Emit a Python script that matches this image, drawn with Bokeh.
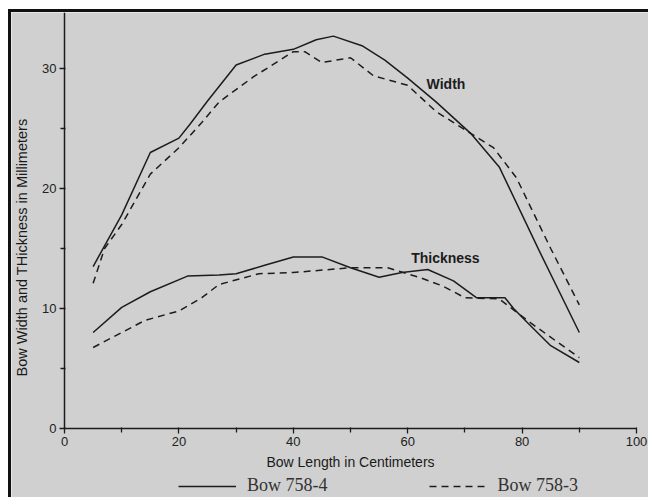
from bokeh.plotting import figure
from bokeh.models import Range1d, FixedTicker, Legend, LegendItem, LinearAxis
from bokeh.embed import file_html
from bokeh.resources import INLINE

# Width, Bow 758-4 (solid)
w4_x = [5, 10, 15, 20, 22, 25, 30, 35, 40, 44, 47, 52, 56, 60, 65, 71, 76, 83, 90]
w4_y = [13.5, 17.8, 23.0, 24.2, 25.4, 27.3, 30.3, 31.2, 31.6, 32.4, 32.7, 31.9, 30.7, 29.2, 27.2, 24.6, 21.8, 14.8, 8.0]
# Width, Bow 758-3 (dashed)
w3_x = [5, 7, 10, 15, 20, 24, 27, 33, 40, 42, 45, 50, 54, 60, 65, 71, 75, 79, 85, 90]
w3_y = [12.1, 15.0, 17.0, 21.2, 23.4, 25.5, 27.2, 29.3, 31.4, 31.4, 30.5, 30.9, 29.4, 28.6, 26.4, 24.6, 23.4, 20.9, 15.0, 10.3]
# Thickness, Bow 758-4 (solid)
t4_x = [5, 10, 15, 21.5, 27, 30, 35, 40, 45, 50, 55, 59, 63.5, 68, 72, 77, 78.5, 81, 85, 90]
t4_y = [8.0, 10.1, 11.4, 12.7, 12.8, 12.9, 13.6, 14.3, 14.3, 13.4, 12.6, 13.0, 13.25, 12.3, 10.9, 10.9, 10.0, 8.8, 6.9, 5.5]
# Thickness, Bow 758-3 (dashed)
t3_x = [5, 14, 20, 24, 27, 34, 40, 50, 56.5, 62, 66, 70, 76, 81.5, 90]
t3_y = [6.75, 9.0, 9.8, 10.9, 12.0, 12.9, 13.0, 13.4, 13.4, 12.6, 11.9, 10.9, 10.8, 8.8, 5.9]

x_ticks = [0, 20, 40, 60, 80, 100]
x_minor = [10, 30, 50, 70, 90]
y_ticks = [0, 10, 20, 30]
y_minor = [5, 15, 25]

series_labels = ["Bow 758-4", "Bow 758-3"]
curve_labels = ["Width", "Thickness"]
label_pos_x = [63.3, 60.6]
label_pos_y = [28.75, 14.2]

BG = "#d0d0d0"
INK = "#1c1c1c"
Y_TOP = 34.67

p = figure(width=640, height=488, output_backend="svg", toolbar_location=None,
           x_range=Range1d(-9.27, 102.62), y_range=Range1d(-6.0, Y_TOP),
           min_border_left=0, min_border_right=0, min_border_top=0, min_border_bottom=0)
p.styles = {"border-left": "3px solid #111111", "border-top": "3px solid #111111"}
p.background_fill_color = BG
p.border_fill_color = BG
p.outline_line_color = None
p.grid.visible = False

r_w4 = p.line(w4_x, w4_y, line_color=INK, line_width=1.5)
r_w3 = p.line(w3_x, w3_y, line_color=INK, line_width=1.5, line_dash="7 5")
p.line(t4_x, t4_y, line_color=INK, line_width=1.5)
p.line(t3_x, t3_y, line_color=INK, line_width=1.5, line_dash="7 5")

p.text(x=label_pos_x, y=label_pos_y, text=curve_labels, text_font_size="14px",
       text_font_style="bold", text_color=INK, text_baseline="middle", text_align="left",
       text_font={"value": "Liberation Sans"})

# secondary left axis that only carries the y title (placed lower, as in the original)
ytitle_axis = LinearAxis(axis_label="Bow Width and THickness in Millimeters",
                         bounds=(0, 30.2), fixed_location=0)
p.add_layout(ytitle_axis, "left")
ytitle_axis.axis_line_color = None
ytitle_axis.major_tick_line_color = None
ytitle_axis.minor_tick_line_color = None
ytitle_axis.major_label_text_font_size = "0px"
ytitle_axis.major_label_text_alpha = 0
ytitle_axis.axis_label_text_font = "Liberation Sans"
ytitle_axis.axis_label_text_font_size = "14.5px"
ytitle_axis.axis_label_text_font_style = "normal"
ytitle_axis.axis_label_text_color = "#1a1a1a"
ytitle_axis.axis_label_standoff = 35
ytitle_axis.ticker = FixedTicker(ticks=[])

for ax in (p.xaxis[0], p.yaxis[0]):
    ax.axis_line_color = INK
    ax.axis_line_width = 1.5
    ax.major_tick_line_color = INK
    ax.minor_tick_line_color = INK
    ax.major_tick_line_width = 1.3
    ax.minor_tick_line_width = 1.3
    ax.major_tick_out = 5
    ax.major_tick_in = 1
    ax.minor_tick_out = 4
    ax.minor_tick_in = 1
    ax.major_label_text_font = "Liberation Sans"
    ax.major_label_text_font_size = "13px"
    ax.major_label_text_color = "#222222"
    ax.axis_label_text_font = "Liberation Sans"
    ax.axis_label_text_font_size = "14px"
    ax.axis_label_text_font_style = "normal"
    ax.axis_label_text_color = "#1a1a1a"

p.xaxis[0].ticker = FixedTicker(ticks=x_ticks, minor_ticks=x_minor)
p.yaxis[0].ticker = FixedTicker(ticks=y_ticks, minor_ticks=y_minor)
p.xaxis[0].axis_label = "Bow Length in Centimeters"
p.xaxis[0].fixed_location = 0
p.yaxis[0].fixed_location = 0
p.xaxis[0].bounds = (0, 100)
p.yaxis[0].bounds = (0, Y_TOP)
p.xaxis[0].major_label_standoff = 3
p.xaxis[0].axis_label_standoff = 5
p.yaxis[0].major_label_standoff = 3

legend = Legend(items=[LegendItem(label=series_labels[0], renderers=[r_w4]),
                       LegendItem(label=series_labels[1], renderers=[r_w3])],
                location=(167, 4), orientation="horizontal", glyph_width=58, glyph_height=16,
                label_standoff=11, padding=0, margin=0, spacing=101,
                background_fill_alpha=0, border_line_color=None,
                label_text_font="Liberation Serif", label_text_font_size="18px",
                label_text_color="#333333")
p.add_layout(legend, "center")

html = file_html(p, INLINE)
html = html.replace("</head>", "<style>html,body{background:#ffffff !important;} body{padding:9px 0 0 8px !important;}</style></head>", 1)
open("out.html", "w").write(html)
